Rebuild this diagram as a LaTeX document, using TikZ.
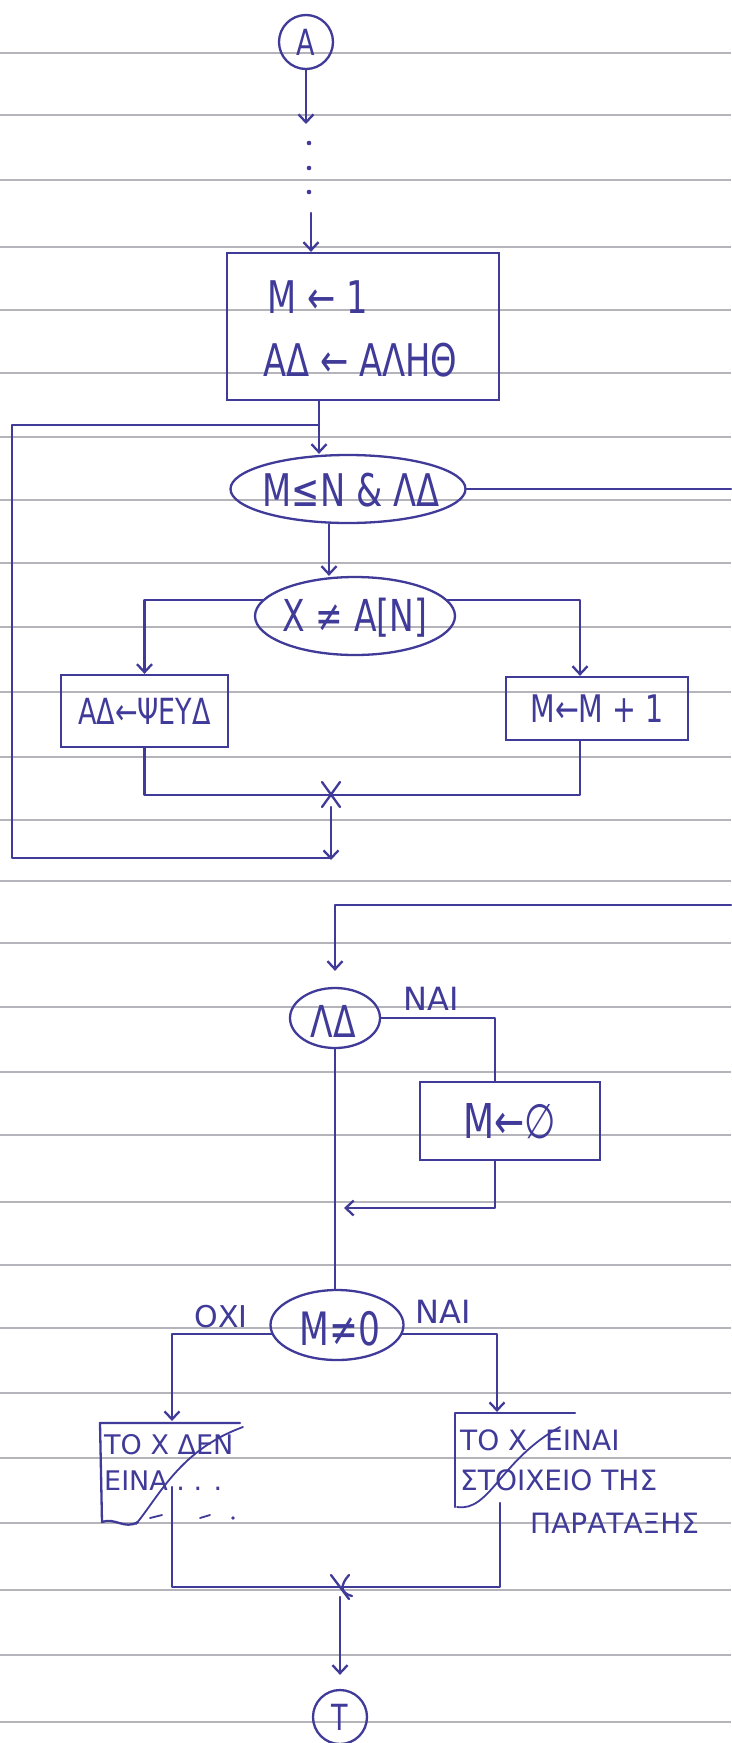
\documentclass[tikz,border=0pt]{standalone}
\usepackage{fontspec}
\newfontfamily\hand{DejaVu Sans}[FakeStretch=0.75]
\newfontfamily\handw{DejaVu Sans}
\usetikzlibrary{shapes.geometric,arrows.meta,calc}
\definecolor{ink}{RGB}{64,58,152}
\definecolor{rule}{RGB}{180,180,186}
\begin{document}
\begin{tikzpicture}[x=1pt,y=-1pt,
  ln/.style={draw=ink,line width=2.3pt,line cap=round,line join=round},
  arr/.style={ln,-{Straight Barb[length=8pt,width=15pt]}},
  box/.style={draw=ink,line width=2.3pt,rectangle,inner sep=0pt,text=ink},
  dec/.style={draw=ink,line width=2.3pt,ellipse,inner sep=0pt},
  conn/.style={draw=ink,line width=2.3pt,circle,inner sep=0pt,minimum size=54pt,text=ink,font=\hand\fontsize{36}{36}\selectfont},
  txt/.style={text=ink,inner sep=0pt},
  big/.style={font=\hand\fontsize{#1}{#1}\selectfont},
  wide/.style={font=\handw\fontsize{#1}{#1}\selectfont},
]
\useasboundingbox (0,0) rectangle (731,1743);
\fill[white] (0,0) rectangle (731,1743);
% ruled paper
\foreach \yy in {53,115,180,247,310,373,437,500,563,627,692,757,820,881,943,1007,1072,1135,1202,1265,1328,1393,1458,1523,1590,1655,1722}
  \draw[rule,line width=1.4pt] (0,\yy) -- (731,\yy);

% start
\node[conn] (A) at (306,42) {A};
\coordinate (d1) at (307,124);
\draw[arr] (A.south) -- (A.south |- d1);
\foreach \yy in {143,168,192} \fill[ink] (309,\yy) circle (2.3pt);
\coordinate (d2) at (311,213);
\node[box,minimum width=272pt,minimum height=147pt] (b1) at (363,326.5) {};
\draw[arr] (d2) -- (d2 |- b1.north);
\node[txt,anchor=west,big=45] (t1a) at (267,297) {Μ ← 1};
\node[txt,anchor=west,big=45] (t1b) at (263,360) {ΑΔ ← ΑΛΗΘ};

% loop
\node[dec,minimum width=235pt,minimum height=68pt] (e1) at (348,489) {};
\node[txt,big=45] (e1t) at (351,490) {Μ≤Ν \& ΛΔ};
\coordinate (j1) at (319,425);
\draw[arr] (b1.south -| j1) -- (e1.north -| j1);
\coordinate (r1) at (731,0);
\draw[ln] (e1.east) -- (e1.east -| r1);

\coordinate (vx2) at (329,0);
\node[dec,minimum width=200pt,minimum height=78pt] (e2) at (355,616) {};
\node[txt,big=44] (e2t) at (355,618) {X ≠ A[N]};
\draw[arr] (e1.south -| vx2) -- (e2.north -| vx2);

\node[box,minimum width=167pt,minimum height=72pt,big=36] (bL) at (144.5,711) {ΑΔ←ΨΕΥΔ};
\node[box,minimum width=182pt,minimum height=63pt,big=38] (bR) at (597,708.5) {Μ←Μ + 1};
\coordinate (jr) at (580,0);
\draw[arr] (e2.170) -| (bL.north);
\draw[arr] (e2.10) -| (bR.north -| jr);

\coordinate (mg) at (331,795);
\draw[ln] (bL.south) |- (mg);
\draw[ln] (bR.south -| jr) |- (mg);
\draw[ln] ($(mg)+(-9,-13)$) -- ($(mg)+(9,12)$);
\draw[ln] ($(mg)+(9,-13)$) -- ($(mg)+(-9,12)$);
\coordinate (mgb) at (331,807);
\coordinate (m2) at (331,860);
\draw[arr] (mgb) -- (m2);
\coordinate (lt) at (12,425);
\coordinate (lb) at (12,858);
\draw[ln] (m2 |- lb) -- (lb) -- (lt) -- (j1);

% second part
\coordinate (r2) at (731,905);
\coordinate (v4) at (335,905);
\node[dec,minimum width=90pt,minimum height=60pt] (e4) at (335,1018) {};
\node[txt,big=44] (e4t) at (333,1021) {ΛΔ};
\draw[arr,shorten >=16pt] (r2) -- (v4) -- (v4 |- e4.north);
\node[txt,wide=32] (nai1) at (431,999) {ΝΑΙ};

\node[box,minimum width=180pt,minimum height=78pt,big=48] (bM) at (510,1121) {Μ←∅};
\coordinate (jx) at (495,0);
\draw[ln] (e4.east) -| (bM.north -| jx);
\coordinate (rt) at (344,1208);
\draw[arr] (bM.south -| jx) |- (rt);

\node[dec,minimum width=133pt,minimum height=70pt] (e5) at (337,1325) {};
\node[txt,big=46] (e5t) at (340,1329) {Μ≠0};
\draw[ln] (e4.south) -- (e4.south |- e5.north);
\node[txt,wide=30] (oxi) at (221,1317) {ΟΧΙ};
\node[txt,wide=32] (nai2) at (443,1312) {ΝΑΙ};
\coordinate (jl) at (172,1421);
\coordinate (jr2) at (497,1412);
\draw[arr] (e5.188) -| (jl);
\draw[arr] (e5.352) -| (jr2);

% left output box
\draw[ln] (240,1423) -- (100,1423) -- (102,1522) .. controls (115,1517) and (124,1530) .. (138,1522);
\node[txt,anchor=west,wide=27] (l1) at (104,1445) {ΤΟ Χ ΔΕΝ};
\node[txt,anchor=west,wide=27] (l2) at (104,1481) {ΕΙΝΑ . . .};
\draw[ln,line width=1.8pt] (150,1518) -- (162,1515);
\draw[ln,line width=1.8pt] (200,1518) -- (210,1515);
\fill[ink] (233,1518) circle (1.8pt);
\draw[ln,line width=1.8pt] (136,1524) .. controls (160,1495) and (180,1450) .. (243,1427);

% right output box
\draw[ln] (575,1413) -- (455,1413) -- (455,1507);
\node[txt,anchor=west,wide=28] (r1t) at (460,1440) {ΤΟ Χ \ ΕΙΝΑΙ};
\node[txt,anchor=west,wide=28] (r2t) at (460,1480) {ΣΤΟΙΧΕΙΟ ΤΗΣ};
\node[txt,anchor=west,wide=28] (r3t) at (530,1523) {ΠΑΡΑΤΑΞΗΣ};
\draw[ln,line width=1.8pt] (457,1507) .. controls (490,1512) and (500,1460) .. (560,1427);

% join and end
\coordinate (mg2) at (340,1587);
\coordinate (ls) at (172,1487);
\coordinate (rs) at (500,1503);
\draw[ln] (ls) |- (mg2);
\draw[ln] (rs) |- (mg2);
\draw[ln] ($(mg2)+(-9,-12)$) -- ($(mg2)+(9,12)$);
\draw[ln] ($(mg2)+(9,-12)$) .. controls ($(mg2)+(0,-2)$) and ($(mg2)+(0,6)$) .. ($(mg2)+(12,9)$);
\node[conn] (T) at (340,1717) {Τ};
\coordinate (mg2b) at (340,1597);
\draw[arr,shorten >=14pt] (mg2b) -- (T);
\end{tikzpicture}
\end{document}
